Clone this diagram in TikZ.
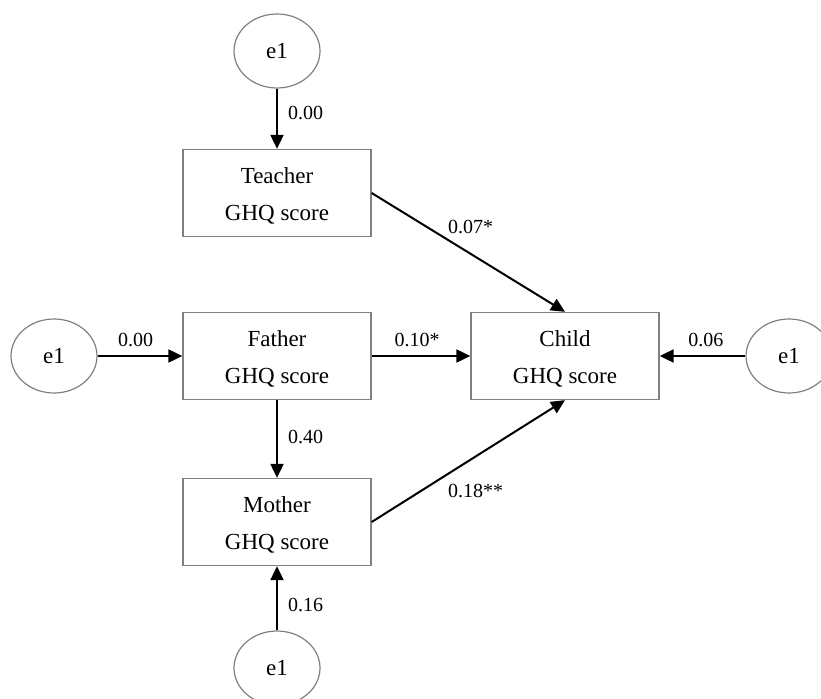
\documentclass[tikz,border=0pt]{standalone}
\usepackage{fontspec}
\setmainfont{Liberation Serif}
\usetikzlibrary{arrows.meta,shapes.geometric}

\begin{document}
\begin{tikzpicture}[x=1pt,y=-1pt,
  var/.style={draw=black!50, line width=1.3pt, minimum width=188pt, minimum height=87pt,
    align=center, inner sep=0pt, font=\fontsize{23}{37}\selectfont},
  err/.style={ellipse, draw=black!50, line width=1.2pt, minimum width=86pt, minimum height=74pt,
    inner sep=0pt, font=\fontsize{23}{28}\selectfont},
  arr/.style={line width=2pt, -{Triangle[length=14pt,width=13pt]}},
  coef/.style={inner sep=0pt, font=\fontsize{20}{24}\selectfont}]
 \useasboundingbox (0,0) rectangle (821,698);

 \node[var] (teacher) at (277,193) {\rule{0pt}{21pt}Teacher\\GHQ score};
 \node[var] (father) at (277,356) {\rule{0pt}{21pt}Father\\GHQ score};
 \node[var] (mother) at (277,522) {\rule{0pt}{21pt}Mother\\GHQ score};
 \node[var] (child) at (565,356) {\rule{0pt}{21pt}Child\\GHQ score};

 \node[err] (eT) at (277,51) {e1};
 \node[err] (eF) at (54,356) {e1};
 \node[err] (eC) at (789,356) {e1};
 \node[err] (eM) at (277,668) {e1};

 %%%%%%%%%%%%%%%%%%%%%%%%%%%%%%%%%%%

 \draw[arr] (eT) -- node[coef, pos=0.41, right=10pt] {0.00} (teacher);
 \draw[arr] (eF) -- node[coef, pos=0.45, above=8pt] {0.00} (father);
 \draw[arr] (eC) -- node[coef, pos=0.46, above=8pt] {0.06} (child);
 \draw[arr] (eM) -- node[coef, pos=0.4, right=10pt] {0.16} (mother);

 \draw[arr] (father) -- node[coef, pos=0.47, right=10pt] {0.40} (mother);
 \draw[arr] (father) -- node[coef, pos=0.46, above=8pt] {0.10*} (child);
 \draw[arr] (teacher.east) -- node[coef, pos=0.39, anchor=south west, yshift=5pt] {0.07*} (child.north);
 \draw[arr] (mother.east) -- node[coef, pos=0.39, anchor=north west, yshift=-9pt] {0.18**} (child.south);
\end{tikzpicture}
\end{document}
